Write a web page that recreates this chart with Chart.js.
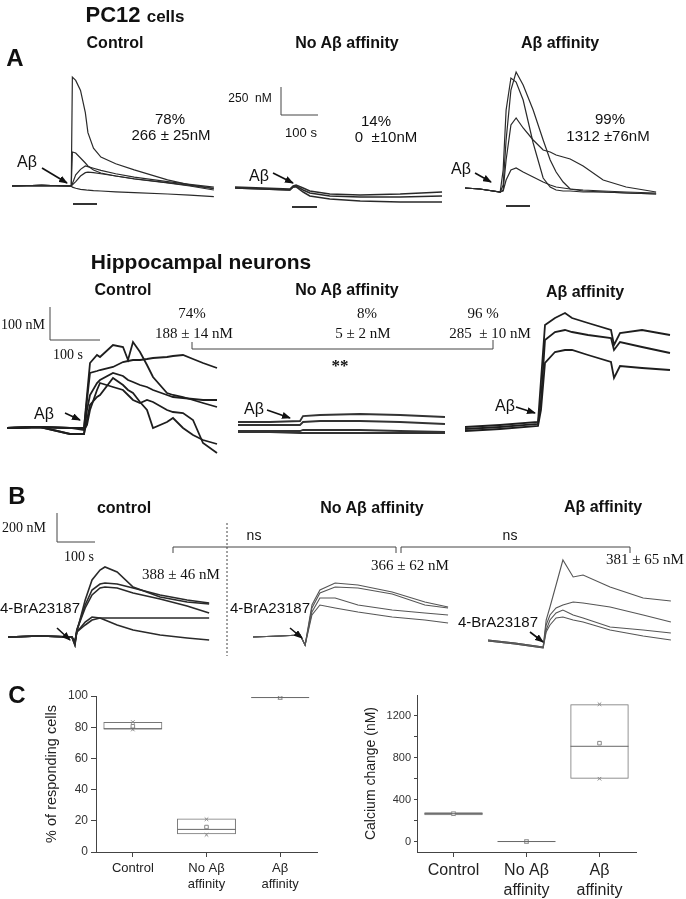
<!DOCTYPE html>
<html>
<head>
<meta charset="utf-8">
<script src="https://cdn.jsdelivr.net/npm/chart.js@4.4.0/dist/chart.umd.min.js"></script>
<style>
body { margin: 0; background: #fff; }
#fig { position: relative; width: 686px; height: 899px; overflow: hidden; font-family: "Liberation Sans", Arial, sans-serif; color: #111; }
#fig canvas { position: absolute; }
.t { position: absolute; transform: translate(-50%, -50%); white-space: pre; line-height: 1; z-index: 2; }
.h { font-weight: bold; font-size: 16px; }
.L { font-weight: bold; font-size: 24px; }
.s { font-size: 15px; }
.r { font-family: "Liberation Serif", "Times New Roman", serif; font-size: 15px; }
svg { position: absolute; left: 0; top: 0; z-index: 1; }
</style>
</head>
<body>
<div id="fig">
  <!-- A: PC12 -->
  <div class="t" style="left:135px;top:15px;font-weight:bold;font-size:22px">PC12 <span style="font-size:17px">cells</span></div>
  <div class="t L" style="left:15px;top:58px">A</div>
  <div class="t h" style="left:115px;top:43px">Control</div>
  <div class="t h" style="left:347px;top:43px">No Aβ affinity</div>
  <div class="t h" style="left:560px;top:43px">Aβ affinity</div>
  <div class="t" style="left:250px;top:98px;font-size:12px">250  nM</div>
  <div class="t" style="left:301px;top:132px;font-size:13px">100 s</div>
  <div class="t s" style="left:170px;top:118px">78%</div>
  <div class="t s" style="left:171px;top:134px">266 ± 25nM</div>
  <div class="t s" style="left:376px;top:120px">14%</div>
  <div class="t s" style="left:386px;top:136px">0  ±10nM</div>
  <div class="t s" style="left:610px;top:118px">99%</div>
  <div class="t s" style="left:608px;top:135px">1312 ±76nM</div>
  <div class="t s" style="left:27px;top:162px;font-size:16px">Aβ</div>
  <div class="t s" style="left:259px;top:176px;font-size:16px">Aβ</div>
  <div class="t s" style="left:461px;top:169px;font-size:16px">Aβ</div>

  <!-- Hippocampal -->
  <div class="t" style="left:201px;top:261px;font-weight:bold;font-size:21px">Hippocampal neurons</div>
  <div class="t h" style="left:123px;top:290px">Control</div>
  <div class="t h" style="left:347px;top:290px">No Aβ affinity</div>
  <div class="t h" style="left:585px;top:292px">Aβ affinity</div>
  <div class="t r" style="left:23px;top:325px;font-size:14px">100 nM</div>
  <div class="t r" style="left:68px;top:355px;font-size:14px">100 s</div>
  <div class="t r" style="left:192px;top:313px">74%</div>
  <div class="t r" style="left:194px;top:333px">188 ± 14 nM</div>
  <div class="t r" style="left:367px;top:313px">8%</div>
  <div class="t r" style="left:363px;top:333px">5 ± 2 nM</div>
  <div class="t r" style="left:483px;top:313px">96 %</div>
  <div class="t r" style="left:490px;top:333px">285  ± 10 nM</div>
  <div class="t r" style="left:340px;top:365px;font-size:17px;font-weight:bold">**</div>
  <div class="t s" style="left:44px;top:414px;font-size:16px">Aβ</div>
  <div class="t s" style="left:254px;top:409px;font-size:16px">Aβ</div>
  <div class="t s" style="left:505px;top:406px;font-size:16px">Aβ</div>

  <!-- B -->
  <div class="t L" style="left:17px;top:496px">B</div>
  <div class="t h" style="left:124px;top:508px">control</div>
  <div class="t h" style="left:372px;top:508px">No Aβ affinity</div>
  <div class="t h" style="left:603px;top:507px">Aβ affinity</div>
  <div class="t r" style="left:24px;top:528px;font-size:14px">200 nM</div>
  <div class="t r" style="left:79px;top:557px;font-size:14px">100 s</div>
  <div class="t s" style="left:254px;top:535px;font-size:14px">ns</div>
  <div class="t s" style="left:510px;top:535px;font-size:14px">ns</div>
  <div class="t r" style="left:181px;top:574px">388 ± 46 nM</div>
  <div class="t r" style="left:410px;top:565px">366 ± 62 nM</div>
  <div class="t r" style="left:645px;top:559px">381 ± 65 nM</div>
  <div class="t s" style="left:40px;top:607px">4-BrA23187</div>
  <div class="t s" style="left:270px;top:607px">4-BrA23187</div>
  <div class="t s" style="left:498px;top:621px">4-BrA23187</div>

  <!-- C -->
  <div class="t L" style="left:17px;top:695px">C</div>

  <svg width="686" height="899">
    <defs>
      <marker id="ah" markerWidth="9" markerHeight="7" refX="8" refY="3.5" orient="auto" markerUnits="userSpaceOnUse">
        <path d="M0,0 L9,3.5 L0,7 z" fill="#111"/>
      </marker>
    </defs>
    <g stroke="#444" fill="none" stroke-width="1">
      <polyline points="281,87 281,115 318,115"/>
      <polyline points="50,307 50,340 100,340"/>
      <polyline points="192,342 192,349 493,349 493,340"/>
      <polyline points="57,513 57,542 95,542"/>
      <polyline points="173,553 173,547 396,547 396,553"/>
      <polyline points="401,553 401,547 630,547 630,553"/>
      <line x1="227" y1="523" x2="227" y2="656" stroke-dasharray="2,2"/>
    </g>
    <g stroke="#333" stroke-width="2">
      <line x1="73" y1="204" x2="97" y2="204"/>
      <line x1="292" y1="207" x2="317" y2="207"/>
      <line x1="506" y1="206" x2="530" y2="206"/>
    </g>
    <g stroke="#111" stroke-width="1.6" marker-end="url(#ah)">
      <line x1="42" y1="168" x2="67" y2="183"/>
      <line x1="273" y1="173" x2="293" y2="183"/>
      <line x1="475" y1="173" x2="491" y2="182"/>
      <line x1="65" y1="413" x2="80" y2="420"/>
      <line x1="267" y1="410" x2="290" y2="418"/>
      <line x1="516" y1="407" x2="535" y2="413"/>
      <line x1="57" y1="628" x2="70" y2="640"/>
      <line x1="290" y1="628" x2="302" y2="638"/>
      <line x1="530" y1="632" x2="543" y2="642"/>
    </g>
  </svg>
</div>

<script>
// ---- A: PC12 cells, time (s) and [Ca2+] change (nM) ----
const pcCtrlT = [0, 80, 155, 160, 163, 172, 185, 198, 205, 220, 240, 280, 330, 420, 480, 545];
const pcCtrl1 = [0, 5, 0, 0, 980, 950, 860, 660, 480, 340, 260, 200, 145, 55, 10, -20];
const pcCtrl2 = [0, 5, 0, 0, 306, 297, 252, 207, 180, 144, 117, 90, 63, 27, 0, -36];
const pcCtrl3 = [0, 5, 0, 0, 20, 100, 150, 180, 175, 160, 140, 110, 80, 40, 15, -10];
const pcCtrl4 = [0, 5, 0, 0, 10, 40, 90, 120, 125, 120, 110, 90, 65, 30, 5, -25];
const pcCtrl5 = [0, 5, 0, 0, -10, -20, -30, -35, -38, -42, -45, -52, -60, -72, -82, -95];

const pcNoT = [0, 75, 148, 157, 165, 184, 202, 256, 338, 446, 559];
const pcNo1 = [-9, -18, -27, 0, 9, -18, -45, -72, -81, -72, -54];
const pcNo2 = [-18, -27, -36, -9, 0, -36, -63, -90, -99, -99, -90];
const pcNo3 = [-18, -27, -36, -9, -9, -54, -90, -117, -135, -144, -144];

const pcAbT = [0, 40, 95, 103, 111, 124, 138, 157, 184, 211, 230, 246, 265, 284, 319, 373, 435, 516];
const pcAb1 = [-18, -27, -54, 144, 684, 972, 936, 774, 387, 72, -9, -36, -45, -45, -54, -54, -63, -72];
const pcAb2 = [-18, -27, -54, 9, 414, 864, 1026, 909, 684, 414, 234, 126, 36, -27, -45, -54, -63, -72];
const pcAb3 = [-18, -27, -54, -36, 234, 549, 612, 522, 414, 324, 306, 279, 261, 243, 180, 54, -9, -54];
const pcAb4 = [-18, -27, -54, -45, 54, 144, 162, 126, 81, 36, 9, -9, -18, -27, -36, -45, -54, -63];

// ---- Hippocampal neurons ----
const hcCtrlT = [0, 66, 126, 130, 154, 160, 166, 180, 186, 212, 232, 242, 252, 266, 280, 292, 320, 332, 352, 372, 392, 420];
const hcCtrl1 = [0, 3, 0, 0, 0, 84, 165, 171, 174, 183, 198, 201, 204, 204, 207, 210, 213, 216, 219, 207, 195, 180];
const hcCtrl2 = [0, 3, 0, 0, 0, 99, 195, 219, 213, 249, 243, 204, 258, 228, 189, 153, 105, 99, 93, 84, 75, 63];
const hcCtrl3 = [0, 3, -18, -18, -18, 54, 99, 135, 144, 165, 156, 144, 138, 129, 123, 114, 99, 93, 90, 87, 84, 84];
const hcCtrl4 = [0, 3, -18, -18, -18, 24, 69, 93, 99, 150, 129, 114, 105, 78, 54, 0, 18, 30, 0, -21, -36, -48];
const hcCtrl5 = [0, 3, 0, 0, -6, 9, 54, 114, 135, 123, 114, 99, 84, 75, 84, 78, 54, 48, 45, 24, -45, -75];

const hcNoT = [0, 64, 124, 130, 164, 244, 324, 414];
const hcNo1 = [18, 18, 21, 36, 39, 42, 39, 33];
const hcNo2 = [9, 9, 9, 18, 21, 21, 18, 12];
const hcNo3 = [-9, -9, -9, -6, -6, -6, -9, -12];
const hcNo4 = [-12, -12, -15, -15, -15, -15, -15, -15];

const hcAbT = [0, 70, 146, 152, 160, 180, 200, 214, 246, 292, 298, 310, 354, 410];
const hcAb1 = [3, 9, 18, 144, 309, 330, 345, 330, 315, 294, 249, 285, 294, 279];
const hcAb2 = [-3, 3, 12, 84, 264, 288, 294, 288, 279, 270, 234, 258, 243, 225];
const hcAb3 = [-9, -3, 6, 54, 195, 228, 234, 234, 219, 198, 150, 186, 180, 174];

// ---- B: 4-BrA23187 ----
const bcCtrlT = [0, 84, 168, 176, 181, 203, 221, 242, 255, 287, 329, 400, 471, 529];
const bcCtrl1 = [0, 7, 0, -56, 35, 259, 399, 469, 490, 455, 350, 280, 245, 231];
const bcCtrl2 = [0, 7, 0, -56, 49, 224, 329, 371, 378, 371, 343, 294, 259, 238];
const bcCtrl3 = [0, 7, 0, -42, 49, 203, 294, 343, 350, 343, 308, 266, 217, 168];
const bcCtrl4 = [0, 7, 0, -28, 35, 84, 119, 133, 133, 133, 133, 133, 133, 133];
const bcCtrl5 = [0, 7, 0, -35, 35, 105, 140, 133, 119, 84, 49, 14, -7, -21];

const bcNoT = [0, 71, 124, 137, 155, 176, 216, 276, 366, 452, 513];
const bcNo1 = [0, 7, 14, -56, 224, 329, 378, 364, 315, 245, 210];
const bcNo2 = [0, 7, 14, -56, 203, 308, 350, 343, 301, 224, 203];
const bcNo3 = [0, 7, 14, -56, 175, 273, 273, 224, 189, 168, 154];
const bcNo4 = [0, 7, 14, -56, 154, 224, 203, 175, 140, 119, 98];

const bcAbT = [0, 71, 145, 153, 163, 179, 197, 224, 250, 321, 408, 481];
const bcAb1 = [-21, -42, -70, 119, 210, 364, 539, 420, 434, 350, 273, 252];
const bcAb2 = [-21, -42, -70, 84, 154, 203, 224, 245, 238, 210, 154, 105];
const bcAb3 = [-28, -49, -77, 49, 119, 168, 189, 154, 133, 70, 49, 28];
const bcAb4 = [-28, -49, -77, 35, 84, 133, 140, 119, 105, 49, 7, -21];

// ---- C: summary boxes ----
const cCats = [["Control"], ["No Aβ", "affinity"], ["Aβ", "affinity"]];
const pctQ1 = [78.5, 11.3, 99];
const pctQ3 = [83.3, 21.4, 99];
const pctMed = [79, 14.5, 99];
const pctMean = [80.6, 16, 99];
const pctLo = [78.5, 11, 99];
const pctHi = [83.3, 21, 99];
const pctTicks = [0, 10, 20, 30, 40, 50, 60, 70, 80, 90, 100];

const caQ1 = [252, 0, 600];
const caQ3 = [280, 0, 1312];
const caMed = [266, 0, 910];
const caMean = [266, 0, 940];
const caLo = [266, 0, 600];
const caHi = [266, 0, 1312];
const caTicks = [0, 200, 400, 600, 800, 1000, 1200];

Chart.defaults.font.family = '"Liberation Sans", Arial, sans-serif';
Chart.defaults.color = "#222";
const fig = document.getElementById("fig");

function addCanvas(left, top, w, h) {
  const cv = document.createElement("canvas");
  cv.width = w; cv.height = h;
  cv.style.left = left + "px"; cv.style.top = top + "px";
  cv.style.width = w + "px"; cv.style.height = h + "px";
  fig.appendChild(cv);
  return cv;
}

// one recording panel: px size + scale (s per px, nM per px) set the axis limits
function tracePanel(p, times, traces) {
  const cv = addCanvas(p.left, p.top, p.w, p.h);
  new Chart(cv, {
    type: "line",
    data: {
      datasets: traces.map(vals => ({
        data: vals.map((v, i) => ({ x: times[i], y: v })),
        borderColor: p.color,
        borderWidth: p.lw,
        pointRadius: 0,
        tension: 0,
        clip: false,
      }))
    },
    options: {
      responsive: false,
      animation: false,
      events: [],
      layout: { padding: 0, autoPadding: false },
      plugins: { legend: { display: false }, tooltip: { enabled: false } },
      scales: {
        x: { type: "linear", display: false, min: 0, max: p.w * p.sPx },
        y: { display: false, min: -(p.top + p.h - p.base) * p.nmPx, max: (p.base - p.top) * p.nmPx }
      }
    }
  });
}

const rowA = { top: 60, h: 160, base: 186, sPx: 2.7, nmPx: 9, color: "#2a2a2a", lw: 1.2 };
tracePanel({ ...rowA, left: 12, w: 206 }, pcCtrlT, [pcCtrl1, pcCtrl2, pcCtrl3, pcCtrl4, pcCtrl5]);
tracePanel({ ...rowA, left: 235, w: 210, lw: 1.5 }, pcNoT, [pcNo1, pcNo2, pcNo3]);
tracePanel({ ...rowA, left: 465, w: 195 }, pcAbT, [pcAb1, pcAb2, pcAb3, pcAb4]);

const rowH = { top: 300, h: 165, base: 428, sPx: 2, nmPx: 3, color: "#1e1e1e", lw: 1.8 };
tracePanel({ ...rowH, left: 7, w: 215 }, hcCtrlT, [hcCtrl1, hcCtrl2, hcCtrl3, hcCtrl4, hcCtrl5]);
tracePanel({ ...rowH, left: 238, w: 210, color: "#333" }, hcNoT, [hcNo1, hcNo2, hcNo3, hcNo4]);
tracePanel({ ...rowH, left: 465, w: 210 }, hcAbT, [hcAb1, hcAb2, hcAb3]);

const rowB = { top: 545, h: 115, base: 637, sPx: 2.63, nmPx: 7, color: "#2a2a2a", lw: 1.6 };
tracePanel({ ...rowB, left: 8, w: 205 }, bcCtrlT, [bcCtrl1, bcCtrl2, bcCtrl3, bcCtrl4, bcCtrl5]);
tracePanel({ ...rowB, left: 253, w: 200, color: "#555", lw: 1.1 }, bcNoT, [bcNo1, bcNo2, bcNo3, bcNo4]);
tracePanel({ ...rowB, left: 488, w: 190, color: "#555", lw: 1.1 }, bcAbT, [bcAb1, bcAb2, bcAb3, bcAb4]);

// box chart for panel C
function boxChart(o) {
  const cv = addCanvas(o.left, 680, 343, 219);
  const pts = (data, style, r, color, bg) => ({
    type: "line", data, showLine: false, pointStyle: style,
    pointRadius: r, pointHoverRadius: r, borderColor: color,
    backgroundColor: bg || color, borderWidth: 1, order: 1,
  });
  new Chart(cv, {
    type: "bar",
    data: {
      labels: cCats,
      datasets: [
        {
          data: o.q1.map((v, i) => [v, o.q3[i]]),
          backgroundColor: o.fill, borderColor: "#777", borderWidth: 1,
          borderSkipped: false, barPercentage: 0.8, categoryPercentage: 1, order: 2,
        },
        pts(o.med, "line", 29, "#666"),
        pts(o.mean, "rect", 2.5, "#888", "#fff"),
        pts(o.lo, "crossRot", 2.5, "#888"),
        pts(o.hi, "crossRot", 2.5, "#888"),
      ]
    },
    options: {
      responsive: false,
      animation: false,
      events: [],
      layout: { autoPadding: false, padding: { left: 0, right: o.padR, top: o.padT, bottom: 0 } },
      plugins: { legend: { display: false }, tooltip: { enabled: false } },
      scales: {
        x: {
          afterFit: s => { s.height = 47; },
          border: { color: "#444" },
          grid: { offset: false, drawOnChartArea: false, tickLength: 5, color: "#444" },
          ticks: { padding: o.xPad, font: { size: o.xFont, lineHeight: 1.25 }, color: "#222" }
        },
        y: {
          min: o.min, max: o.max,
          afterFit: s => { s.width = o.axisW; },
          afterBuildTicks: s => { s.ticks = o.ticks.map(v => ({ value: v })); },
          border: { color: "#444" },
          grid: { drawOnChartArea: false, tickLength: o.tickLen, color: "#444" },
          ticks: { padding: 3, font: { size: o.yFont }, color: "#333",
                   callback: v => (v % o.labelStep === 0 ? v : "") },
          title: { display: true, text: o.title, font: { size: o.titleFont },
                   color: "#222", padding: { top: o.titlePad, bottom: 0 } }
        }
      }
    }
  });
}

boxChart({
  left: 0, q1: pctQ1, q3: pctQ3, med: pctMed, mean: pctMean, lo: pctLo, hi: pctHi,
  fill: "rgba(0,0,0,0)", ticks: pctTicks, labelStep: 20, min: 0, max: 100,
  title: "% of responding cells", axisW: 96, padR: 26, padT: 16, tickLen: 5,
  xFont: 13, xPad: 3, yFont: 12, titleFont: 14.5, titlePad: 43,
});
boxChart({
  left: 343, q1: caQ1, q3: caQ3, med: caMed, mean: caMean, lo: caLo, hi: caHi,
  fill: ["#888", "rgba(0,0,0,0)", "rgba(0,0,0,0)"], ticks: caTicks, labelStep: 400, min: -100, max: 1400,
  title: "Calcium change (nM)", axisW: 74, padR: 50, padT: 15, tickLen: 3,
  xFont: 16, xPad: 4, yFont: 11, titleFont: 14, titlePad: 20,
});
</script>
</body>
</html>
